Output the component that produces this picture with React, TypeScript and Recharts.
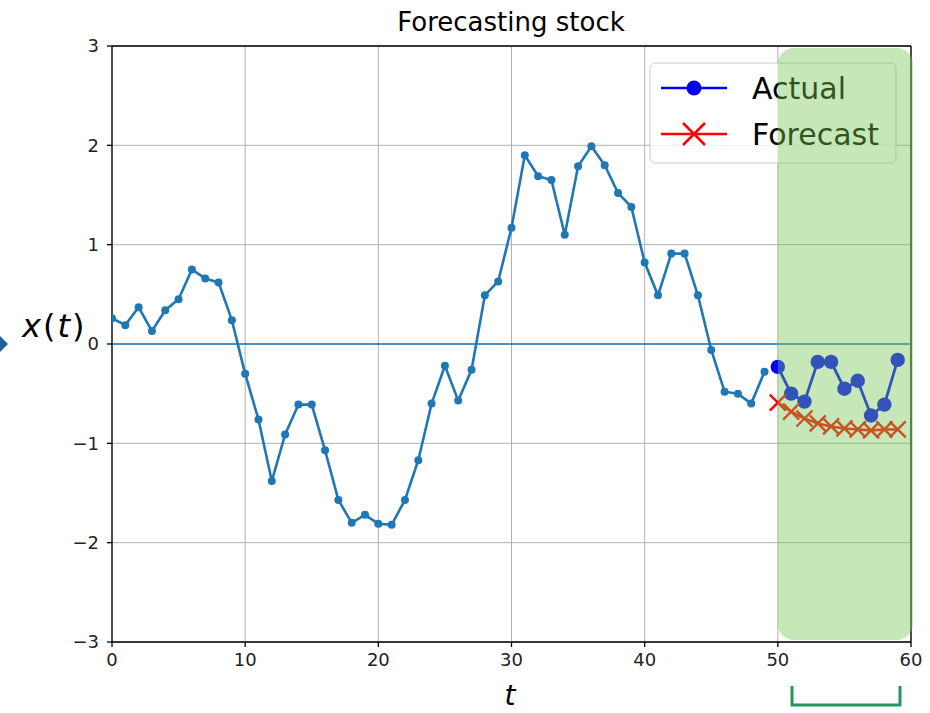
import React from "react";
import {
  LineChart,
  Line,
  XAxis,
  YAxis,
  CartesianGrid,
  ReferenceLine,
  ReferenceArea,
} from "recharts";

// observed series t = 0..49
const seriesValues = [
  0.26, 0.19, 0.37, 0.13, 0.34, 0.45, 0.75, 0.66, 0.62, 0.24,
  -0.3, -0.76, -1.38, -0.91, -0.61, -0.61, -1.07, -1.57, -1.8, -1.72,
  -1.81, -1.82, -1.57, -1.17, -0.6, -0.22, -0.57, -0.26, 0.49, 0.63,
  1.17, 1.9, 1.69, 1.65, 1.1, 1.79, 1.99, 1.8, 1.52, 1.38,
  0.82, 0.49, 0.91, 0.91, 0.49, -0.06, -0.48, -0.5, -0.6, -0.28,
];
// t = 50..59
const actualValues = [-0.23, -0.5, -0.58, -0.18, -0.18, -0.45, -0.37, -0.72, -0.61, -0.16];
const forecastValues = [-0.59, -0.68, -0.75, -0.8, -0.83, -0.85, -0.86, -0.87, -0.86, -0.86];

const xTicks = [0, 10, 20, 30, 40, 50, 60];
const yTicks = [-3, -2, -1, 0, 1, 2, 3];

const rows = [
  ...seriesValues.map((v, i) => ({ t: i, series: v })),
  ...actualValues.map((v, i) => ({
    t: seriesValues.length + i,
    actual: v,
    forecast: forecastValues[i],
  })),
];

const FONT = "DejaVu Sans";
const fmt = (v: number) => (v < 0 ? `\u2212${Math.abs(v)}` : String(v));

const CrossDot = (props: any) => {
  const { cx, cy } = props;
  if (cx == null || cy == null) return null;
  const s = 8;
  return (
    <path
      d={`M${cx - s},${cy - s}L${cx + s},${cy + s}M${cx - s},${cy + s}L${cx + s},${cy - s}`}
      stroke="#ff0000"
      strokeWidth={2.4}
      fill="none"
    />
  );
};

const GreenBox = (props: any) => {
  const { x, y, width, height } = props;
  return (
    <rect
      x={x}
      y={y + 2}
      width={width + 2}
      height={height - 4}
      rx={16}
      ry={16}
      fill="#77c856"
      fillOpacity={0.42}
    />
  );
};

const LegendBox = () => (
  <g fontFamily={FONT}>
    <rect x={650} y={63} width={246} height={100} rx={5} fill="#ffffff" fillOpacity={0.8} stroke="#cccccc" />
    <line x1={661} y1={88} x2={727} y2={88} stroke="#0000ff" strokeWidth={2.5} />
    <circle cx={694} cy={88} r={7.5} fill="#0000ff" />
    <text x={752} y={99} fontSize={30} fill="#000">Actual</text>
    <line x1={661} y1={134} x2={727} y2={134} stroke="#ff0000" strokeWidth={2.5} />
    <path d="M683,123L705,145M683,145L705,123" stroke="#ff0000" strokeWidth={2.5} />
    <text x={752} y={145} fontSize={30} fill="#000">Forecast</text>
  </g>
);

export default function App() {
  return (
    <div style={{ position: "absolute", left: 0, top: 0, width: 930, height: 713, background: "#fff" }}>
      <LineChart
        width={930}
        height={713}
        data={rows}
        margin={{ top: 46, right: 19, bottom: 41, left: 52 }}
        style={{ fontFamily: FONT }}
      >
        <CartesianGrid stroke="#b0b0b0" strokeWidth={1} />
        <XAxis
          dataKey="t"
          type="number"
          domain={[0, 60]}
          ticks={xTicks}
          tickFormatter={fmt}
          stroke="#000"
          strokeWidth={1.3}
          tickSize={5}
          tickMargin={6}
          height={30}
          tick={{ fill: "#222", fontSize: 18, fontFamily: FONT }}
          allowDataOverflow
        />
        <YAxis
          type="number"
          domain={[-3, 3]}
          ticks={yTicks}
          tickFormatter={fmt}
          stroke="#000"
          strokeWidth={1.3}
          tickSize={5}
          tickMargin={8}
          width={60}
          tick={{ fill: "#222", fontSize: 18, fontFamily: FONT }}
          allowDataOverflow
        />
        <ReferenceLine y={3} stroke="#000" strokeWidth={1.3} />
        <ReferenceLine x={60} stroke="#000" strokeWidth={1.3} />
        <ReferenceLine y={0} stroke="#1f77b4" strokeWidth={1.5} />
        <Line
          dataKey="series"
          stroke="#1f77b4"
          strokeWidth={2.6}
          dot={{ r: 4, fill: "#1f77b4", stroke: "#1f77b4", strokeWidth: 0 }}
          connectNulls={false}
          isAnimationActive={false}
        />
        <Line
          dataKey="actual"
          stroke="#0000ff"
          strokeWidth={2.8}
          dot={{ r: 7.2, fill: "#0000ff", stroke: "#0000ff", strokeWidth: 0 }}
          isAnimationActive={false}
        />
        <Line
          dataKey="forecast"
          stroke="#ff0000"
          strokeWidth={2.6}
          dot={<CrossDot />}
          isAnimationActive={false}
        />
        <LegendBox />
        <ReferenceArea x1={50} x2={60} y1={-3} y2={3} shape={<GreenBox />} zIndex={1500} />
        <text x={511} y={31} textAnchor="middle" fontSize={26} fontFamily={FONT} fill="#000">
          Forecasting stock
        </text>
        <text x={22} y={337} fontSize={32} letterSpacing={2} fontFamily={FONT} fill="#000">
          <tspan fontStyle="italic">x</tspan>
          <tspan>(</tspan>
          <tspan fontStyle="italic">t</tspan>
          <tspan>)</tspan>
        </text>
        <text x={510} y={705} textAnchor="middle" fontSize={28} fontStyle="italic" fontFamily={FONT} fill="#000">
          t
        </text>
      </LineChart>
      <svg
        width={930}
        height={713}
        style={{ position: "absolute", left: 0, top: 0, pointerEvents: "none" }}
      >
        <path d="M-8,344L0,336L8,344L0,352Z" fill="#1f5f9a" />
        <path d="M792,686L792,705L900,705L900,686" stroke="#1f9a5b" strokeWidth={3} fill="none" />
      </svg>
    </div>
  );
}
